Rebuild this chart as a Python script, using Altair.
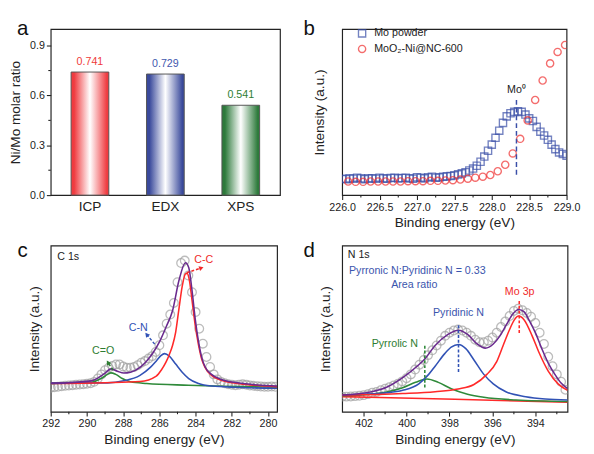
import altair as alt
import pandas as pd

FONT = "Liberation Sans"
INK = "#222222"

# ---------------- panel a ----------------
a_cats = ["ICP", "EDX", "XPS"]
a_vals = [0.741, 0.729, 0.541]
a_labels = ["0.741", "0.729", "0.541"]
a_bar_colors = ["#ef3b40", "#3a4a9c", "#2d7a3b"]
a_text_colors = ["#f03a3a", "#3f58ae", "#2e7d32"]
a_major = [0.0, 0.3, 0.6, 0.9]
a_minor = [0.15, 0.45, 0.75]

# ---------------- panel b ----------------
b_sq_x = [round(226.0 + 0.05 * i, 2) for i in range(61)]
b_sq_y = [9.9, 9.6, 10.1, 9.9, 10.5, 10.1, 9.6, 10.1, 10.1, 9.9,
          10.5, 10.1, 9.9, 10.3, 10.5, 10.1, 10.3, 10.5, 10.1, 9.9,
          10.7, 10.5, 10.1, 10.7, 11.1, 10.5, 10.7, 11.1, 11.3, 11.5,
          11.9, 12.5, 13.1, 13.8, 14.8, 16.0, 17.7, 20.1, 23.2, 26.7,
          30.4, 34.5, 38.8, 43.5, 47.4, 49.3, 50.1, 50.5, 50.1, 48.5,
          46.2, 44.6, 41.1, 38.2, 35.9, 33.3, 30.4, 27.7, 25.7, 24.8, 23.8]
b_ci_x = [round(226.08 + 0.1 * i, 2) for i in range(30)]
b_ci_y = [8.2, 8.0, 8.0, 8.2, 8.2, 8.2, 8.2, 8.2, 8.4, 8.4,
          8.4, 8.6, 8.6, 8.8, 9.0, 9.4, 9.9, 10.5, 11.1, 12.1,
          14.4, 18.3, 25.1, 33.9, 45.0, 57.3, 69.0, 79.3, 86.2, 90.4]
b_series = ["Mo powder", "MoO\u2082-Ni@NC-600"]
b_major = [226.0, 226.5, 227.0, 227.5, 228.0, 228.5, 229.0]
b_minor = [226.25, 226.75, 227.25, 227.75, 228.25, 228.75]
b_mo_x = 228.33
b_mo_y = [12.3, 57.3]
b_mo_label_y = 63.5

# ---------------- panel c ----------------
c_x = [round(292.0 - 0.2 * i, 1) for i in range(63)]
c_y = [14.5, 14.8, 15.0, 15.3, 15.6, 15.8, 16.0, 16.2, 16.4, 16.6,
       16.8, 17.2, 18.0, 20.0, 22.5, 25.0, 26.5, 27.5, 28.5, 28.5,
       27.2, 26.5, 26.5, 27.0, 28.0, 29.5, 30.5, 32.0, 33.5, 36.0,
       40.0, 46.0, 53.0, 58.5, 65.5, 78.0, 89.5, 91.0, 82.0, 72.0,
       60.0, 50.0, 41.0, 33.0, 27.0, 22.5, 19.5, 18.0, 17.2, 16.6,
       16.2, 16.0, 16.3, 16.5, 16.2, 15.8, 15.6, 15.4, 15.2, 15.0,
       15.0, 15.2, 15.0]
c_fit = {
    "C=O": ([292.0, 289.76, 289.22, 288.86, 288.68, 288.41, 288.05, 287.6, 286.7, 284.4, 282.5, 279.5],
            [17.0, 17.8, 20.0, 22.5, 23.4, 22.5, 20.0, 18.0, 17.0, 16.0, 15.4, 14.7]),
    "C-N": ([292.0, 288.86, 287.97, 287.07, 286.5, 286.17, 285.9, 285.72, 285.45, 285.1, 284.74, 284.38, 283.84, 283.12, 281.7, 279.5],
            [17.4, 17.4, 18.6, 21.9, 26.7, 30.6, 34.0, 35.0, 33.5, 28.7, 23.8, 20.0, 17.0, 15.5, 14.7, 14.1]),
    "C-C": ([292.0, 289.0, 287.07, 286.17, 285.9, 285.63, 285.45, 285.27, 285.1, 284.92, 284.74, 284.56, 284.47, 284.34, 284.2, 284.02, 283.84, 283.66, 283.48, 283.12, 282.58, 281.7, 280.8, 279.5],
            [17.0, 17.5, 18.2, 21.5, 25.0, 30.0, 34.5, 40.0, 48.0, 62.0, 75.5, 83.0, 83.3, 79.0, 67.4, 52.0, 40.3, 31.6, 26.7, 21.9, 19.0, 17.0, 16.0, 15.1]),
    "sum": ([292.0, 289.76, 289.04, 288.68, 288.32, 287.97, 287.6, 287.07, 286.7, 286.35, 285.99, 285.63, 285.27, 284.92, 284.56, 284.38, 284.2, 284.02, 283.84, 283.66, 283.48, 283.12, 282.58, 281.7, 279.5],
            [17.0, 18.6, 22.9, 25.8, 24.4, 23.3, 23.8, 26.7, 30.6, 35.5, 42.2, 51.0, 61.0, 79.0, 89.7, 86.8, 73.3, 55.8, 42.2, 32.6, 27.1, 22.5, 19.4, 17.4, 15.5]),
}
c_fit_colors = {"C=O": "#2f8a3a", "C-N": "#3152b5", "C-C": "#ff2a2a", "sum": "#6a2a8e"}
c_labels = ["C-C", "C-N", "C=O"]
c_label_x = [283.55, 287.17, 289.11]
c_label_y = [91.5, 50.6, 36.6]
c_label_col = ["#f02a2a", "#3152b5", "#2e7d32"]
c_arrow_x0 = [284.49, 286.26, 288.57]
c_arrow_y0 = [83.7, 40.7, 25.0]
c_arrow_x1 = [283.68, 286.70, 288.84]
c_arrow_y1 = [86.6, 46.5, 29.7]
c_arrow_ang = [72, 321, 328]
c_major = [280, 282, 284, 286, 288, 290, 292]
c_minor = [281, 283, 285, 287, 289, 291]

# ---------------- panel d ----------------
d_x = [round(403.0 - 0.2 * i, 1) for i in range(53)]
d_y = [9.1, 9.1, 9.2, 9.4, 9.6, 10.0, 10.6, 11.4, 11.9, 12.9,
       13.9, 14.8, 15.8, 16.8, 18.3, 20.2, 22.5, 25.4, 28.3, 31.2,
       34.1, 37.0, 39.9, 42.8, 45.7, 47.6, 48.9, 49.5, 48.9, 47.6,
       45.7, 43.4, 41.8, 41.8, 42.8, 44.7, 47.6, 51.0, 54.3, 57.6,
       60.7, 62.0, 61.1, 59.5, 57.2, 53.4, 47.6, 40.8, 33.1, 27.4,
       22.5, 18.1, 13.3]
d_fit = {
    "bg": ([403.0, 397.75, 392.5], [9.1, 7.5, 5.8]),
    "Pyrrolic": ([403.0, 401.7, 400.93, 400.18, 399.58, 399.05, 398.52, 397.92, 397.16, 396.4, 394.9, 392.5],
                 [9.6, 10.6, 11.9, 14.5, 17.7, 19.7, 17.7, 13.9, 10.6, 8.7, 7.1, 6.2]),
    "Pyridinic": ([403.0, 400.93, 400.18, 399.43, 398.97, 398.67, 398.22, 397.92, 397.58, 397.24, 396.86, 396.4, 395.96, 395.35, 394.45, 393.54, 392.5],
                  [10.0, 11.4, 12.9, 16.8, 22.5, 27.4, 35.0, 38.9, 40.5, 38.0, 31.2, 22.5, 16.8, 11.9, 9.1, 7.7, 7.1]),
    "Mo3p": ([403.0, 400.18, 398.67, 397.6, 396.86, 396.26, 395.8, 395.5, 395.2, 394.98, 394.78, 394.52, 394.15, 393.84, 393.4, 392.94, 392.5],
             [10.0, 11.0, 12.1, 13.7, 16.4, 22.5, 30.2, 39.9, 49.5, 55.3, 57.6, 55.3, 45.7, 36.0, 24.5, 16.8, 12.9]),
    "sum": ([403.0, 401.7, 400.93, 400.18, 399.43, 399.15, 398.67, 398.07, 397.58, 397.16, 396.71, 396.33, 395.96, 395.65, 395.35, 395.05, 394.78, 394.52, 394.3, 394.0, 393.7, 393.4, 393.09, 392.79, 392.5],
            [10.0, 11.9, 14.8, 20.6, 28.3, 31.8, 39.9, 46.6, 49.1, 46.6, 40.8, 38.3, 40.8, 45.7, 52.4, 58.8, 61.5, 60.1, 55.3, 47.6, 38.0, 29.3, 22.5, 17.1, 13.9]),
}
d_fit_colors = {"bg": "#ff2a2a", "Pyrrolic": "#2f8a3a", "Pyridinic": "#3152b5",
                "Mo3p": "#ff2a2a", "sum": "#6a2a8e"}
d_labels = ["Pyrronic N:Pyridinic N = 0.33", "Area ratio", "Mo 3p", "Pyridinic N", "Pyrrolic N"]
d_label_x = [399.5, 399.64, 394.73, 397.58, 400.55]
d_label_y = [84.8, 76.0, 72.0, 59.6, 41.0]
d_label_col = ["#3b55ad", "#3b55ad", "#f02a2a", "#3b55ad", "#2e7d32"]
d_dash_x = [399.15, 397.58, 394.75]
d_dash_y0 = [14.6, 24.0, 47.4]
d_dash_y1 = [39.8, 53.2, 67.8]
d_dash_col = ["#2f8a3a", "#3152b5", "#ff2a2a"]
d_major = [394, 396, 398, 400, 402]
d_minor = [393, 395, 397, 399, 401]

H = 171


# ---------------- helpers ----------------
def major_axis(values, fmt, title, **kw):
    return alt.Axis(values=values, tickCount=40, format=fmt, title=title, domain=False, grid=False,
                    tickSize=4.5, tickWidth=1.1, tickColor=INK,
                    labelOverlap=False, labelFlush=False,
                    labelFontSize=11, titleFontSize=14,
                    labelColor=INK, titleColor=INK, titleFontWeight="normal", **kw)


def minor_x(values, field="x"):
    return alt.Chart(pd.DataFrame({field: values})).mark_rule(
        color=INK, strokeWidth=1.1).encode(
        x=alt.X(f"{field}:Q"), y=alt.value(H), y2=alt.value(H + 2.5))


def intensity_axis(pad):
    return alt.Axis(title="Intensity (a.u.)", labels=False, ticks=False, domain=False,
                    grid=False, titleFontSize=14, titlePadding=pad, titleColor=INK,
                    titleFontWeight="normal")


def panel_label(letter, dx, dy):
    return alt.Chart(pd.DataFrame({"t": [letter]})).mark_text(
        fontSize=21, font=FONT, color="#111", align="center", baseline="alphabetic"
    ).encode(x=alt.value(dx), y=alt.value(dy), text="t:N")


# ---------------- panel a chart ----------------
df_a = pd.DataFrame({"cat": a_cats, "val": a_vals, "lab": a_labels})
xa = alt.X("cat:N", sort=a_cats,
           scale=alt.Scale(paddingInner=0.5, paddingOuter=0.27),
           axis=alt.Axis(title=None, labelAngle=0, labelFontSize=14, ticks=False,
                         domain=False, labelPadding=5, labelColor=INK))
ya = alt.Y("val:Q", scale=alt.Scale(domain=[0, 1.0], nice=False),
           axis=major_axis(a_major, ".1f", "Ni/Mo molar ratio", titlePadding=7, labelPadding=2))
a_layers = []
for cat, col in zip(a_cats, a_bar_colors):
    grad = alt.Gradient(gradient="linear", x1=0, x2=1, y1=0, y2=0,
                        stops=[alt.GradientStop(color=col, offset=0),
                               alt.GradientStop(color=col, offset=0.08),
                               alt.GradientStop(color="white", offset=0.5),
                               alt.GradientStop(color=col, offset=0.95),
                               alt.GradientStop(color=col, offset=1)])
    a_layers.append(alt.Chart(df_a).transform_filter(alt.datum.cat == cat)
                    .mark_bar(color=grad, stroke="#555555", strokeWidth=1)
                    .encode(x=xa, y=ya))
a_text = alt.Chart(df_a).mark_text(fontSize=11, font=FONT, baseline="middle", dy=-10).encode(
    x=alt.X("cat:N", sort=a_cats), y="val:Q", text="lab:N",
    color=alt.Color("cat:N", scale=alt.Scale(domain=a_cats, range=a_text_colors), legend=None))
a_minor_ticks = alt.Chart(pd.DataFrame({"val": a_minor})).mark_rule(
    color=INK, strokeWidth=1.1).encode(y="val:Q", x=alt.value(0), x2=alt.value(-2.5))
pa = alt.layer(*a_layers, a_text, a_minor_ticks,
               panel_label("a", -29, 6)).properties(width=236, height=H)

# ---------------- panel b chart ----------------
df_b = pd.DataFrame({
    "x": b_sq_x + b_ci_x,
    "y": b_sq_y + b_ci_y,
    "s": [b_series[0]] * len(b_sq_x) + [b_series[1]] * len(b_ci_x),
    "o": list(range(len(b_sq_x) + len(b_ci_x))),
})
xb = alt.X("x:Q", scale=alt.Scale(domain=[226, 229], nice=False),
           axis=major_axis(b_major, ".1f", "Binding energy (eV)", labelPadding=2, titlePadding=4))
yb = alt.Y("y:Q", scale=alt.Scale(domain=[0, 100], nice=False), axis=intensity_axis(16))
b_pts = alt.Chart(df_b).mark_point(filled=False, size=55, strokeWidth=1.4, clip=True).encode(
    x=xb, y=yb,
    shape=alt.Shape("s:N", scale=alt.Scale(domain=b_series, range=["square", "circle"]),
                    legend=alt.Legend(orient="none", legendX=15, legendY=-1, title=None,
                                      labelFontSize=11, labelFont=FONT, symbolSize=55,
                                      symbolStrokeWidth=1.4, rowPadding=1, labelOffset=7,
                                      labelColor=INK)),
    color=alt.Color("s:N", scale=alt.Scale(domain=b_series, range=["#3a4fa8", "#f03030"])),
    order="o:Q")
df_bmo = pd.DataFrame({"x": [b_mo_x], "y0": [b_mo_y[0]], "y1": [b_mo_y[1]],
                       "ly": [b_mo_label_y], "t": ["Mo\u2070"]})
b_rule = alt.Chart(df_bmo).mark_rule(strokeDash=[5, 3], strokeWidth=1.5, color="#3a4fa8").encode(
    x="x:Q", y="y0:Q", y2="y1:Q")
b_lab = alt.Chart(df_bmo).mark_text(fontSize=11, font=FONT, color=INK, baseline="middle").encode(
    x="x:Q", y="ly:Q", text="t:N")
pb = alt.layer(b_pts, b_rule, b_lab, minor_x(b_minor),
               panel_label("b", -34, 6)).properties(width=231, height=H)

# ---------------- panel c chart ----------------
rows = []
for k, (xs, ys) in c_fit.items():
    for xv, yv in zip(xs, ys):
        rows.append({"comp": k, "x": xv, "y": yv})
df_cfit = pd.DataFrame(rows)
df_c = pd.DataFrame({"x": c_x, "y": c_y})
xc = alt.X("x:Q", scale=alt.Scale(domain=[279.5, 292], reverse=True, nice=False),
           axis=major_axis(c_major, "d", "Binding energy (eV)", labelPadding=2, titlePadding=4))
yc = alt.Y("y:Q", scale=alt.Scale(domain=[0, 100], nice=False), axis=intensity_axis(10))
c_pts = alt.Chart(df_c).mark_point(filled=False, size=80, strokeWidth=1.3, color="#a0a0a0",
                                   clip=True).encode(x=xc, y=yc)
c_lines = alt.Chart(df_cfit).mark_line(strokeWidth=1.6, interpolate="monotone", clip=True).encode(
    x="x:Q", y="y:Q",
    color=alt.Color("comp:N", scale=alt.Scale(domain=list(c_fit_colors.keys()),
                                              range=list(c_fit_colors.values())), legend=None))
df_cann = pd.DataFrame({"t": c_labels, "x": c_label_x, "y": c_label_y, "col": c_label_col,
                        "x0": c_arrow_x0, "y0": c_arrow_y0, "x1": c_arrow_x1, "y1": c_arrow_y1,
                        "ang": c_arrow_ang})
c_txt = alt.Chart(df_cann).mark_text(fontSize=11, font=FONT, baseline="middle").encode(
    x="x:Q", y="y:Q", text="t:N", color=alt.Color("col:N", scale=None))
c_arr = alt.Chart(df_cann).mark_rule(strokeDash=[3, 2], strokeWidth=1.5).encode(
    x="x0:Q", y="y0:Q", x2="x1:Q", y2="y1:Q", color=alt.Color("col:N", scale=None))
c_head = alt.Chart(df_cann).mark_point(shape="triangle-up", filled=True, size=28, opacity=1).encode(
    x="x1:Q", y="y1:Q", angle=alt.Angle("ang:Q", scale=None), color=alt.Color("col:N", scale=None))
c_tag = alt.Chart(pd.DataFrame({"t": ["C 1s"], "x": [291.64], "y": [93.0]})).mark_text(
    fontSize=11, font=FONT, color=INK, align="left", baseline="middle").encode(x="x:Q", y="y:Q", text="t:N")
pc = alt.layer(c_pts, c_lines, c_arr, c_head, c_txt, c_tag, minor_x(c_minor),
               panel_label("c", -29, 12)).properties(width=233, height=H)

# ---------------- panel d chart ----------------
rows = []
for k, (xs, ys) in d_fit.items():
    for xv, yv in zip(xs, ys):
        rows.append({"comp": k, "x": xv, "y": yv})
df_dfit = pd.DataFrame(rows)
df_d = pd.DataFrame({"x": d_x, "y": d_y})
xd = alt.X("x:Q", scale=alt.Scale(domain=[392.5, 403], reverse=True, nice=False),
           axis=major_axis(d_major, "d", "Binding energy (eV)", labelPadding=2, titlePadding=4))
yd = alt.Y("y:Q", scale=alt.Scale(domain=[0, 100], nice=False), axis=intensity_axis(10))
d_pts = alt.Chart(df_d).mark_point(filled=False, size=80, strokeWidth=1.3, color="#a0a0a0",
                                   clip=True).encode(x=xd, y=yd)
d_lines = alt.Chart(df_dfit).mark_line(strokeWidth=1.6, interpolate="monotone", clip=True).encode(
    x="x:Q", y="y:Q",
    color=alt.Color("comp:N", scale=alt.Scale(domain=list(d_fit_colors.keys()),
                                              range=list(d_fit_colors.values())), legend=None))
df_dash = pd.DataFrame({"x": d_dash_x, "y0": d_dash_y0, "y1": d_dash_y1, "col": d_dash_col})
d_dash = alt.Chart(df_dash).mark_rule(strokeDash=[3, 2], strokeWidth=1.6).encode(
    x="x:Q", y="y0:Q", y2="y1:Q", color=alt.Color("col:N", scale=None))
df_dann = pd.DataFrame({"t": d_labels, "x": d_label_x, "y": d_label_y, "col": d_label_col})
d_txt = alt.Chart(df_dann).mark_text(fontSize=11, font=FONT, baseline="middle").encode(
    x="x:Q", y="y:Q", text="t:N", color=alt.Color("col:N", scale=None))
d_tag = alt.Chart(pd.DataFrame({"t": ["N 1s"], "x": [402.74], "y": [94.5]})).mark_text(
    fontSize=11, font=FONT, color=INK, align="left", baseline="middle").encode(x="x:Q", y="y:Q", text="t:N")
pd_ = alt.layer(d_pts, d_lines, d_dash, d_txt, d_tag, minor_x(d_minor),
                panel_label("d", -34, 12)).properties(width=232, height=H)

chart = alt.ConcatChart(
    concat=[pa, pb, pc, pd_], columns=2,
    spacing=alt.RowColnumber(row=52, column=64),
    bounds="flush", align="all",
).resolve_scale(color="independent", shape="independent").properties(
    padding={"left": 0, "top": 3, "right": 5, "bottom": 5},
    background="white",
).configure(font=FONT).configure_view(stroke=INK, strokeWidth=1.2).configure_axis(
    labelFont=FONT, titleFont=FONT)

chart.save("out.html", embed_options={"renderer": "svg", "actions": False})
